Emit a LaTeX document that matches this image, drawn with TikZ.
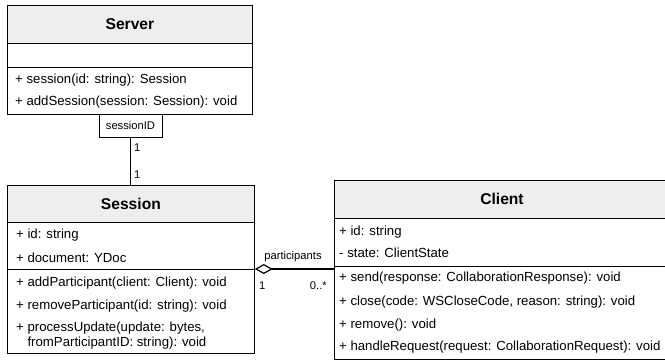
\documentclass[tikz,border=0pt]{standalone}
\usepackage{fontspec}
\setmainfont{Liberation Sans}
\usetikzlibrary{arrows.meta}
\definecolor{headfill}{RGB}{238,238,238}
\tikzset{
  classbox/.style={draw=black, line width=0.8pt, fill=white, anchor=north west, inner sep=0pt},
  headbox/.style={draw=black, line width=0.8pt, fill=headfill, anchor=north west, inner sep=0pt,
    font=\fontsize{15.6}{18}\selectfont\bfseries},
  member/.style={anchor=west, inner sep=0pt, font=\fontsize{13.2}{15}\selectfont},
  sepline/.style={line width=0.8pt},
  assoc/.style={line width=1.8pt},
  smalllabel/.style={inner sep=0pt, font=\fontsize{11.2}{13}\selectfont},
}
\begin{document}
\begin{tikzpicture}[x=1pt,y=-1pt]
\useasboundingbox (0,0) rectangle (665,360);

% ---------- Server ----------
\node[classbox, minimum width=245pt, minimum height=109pt] (server) at (7,5) {};
\node[headbox, minimum width=245pt, minimum height=38pt] (serverhead) at (7,5) {Server};
\draw[sepline] (7,67) -- (252,67);
\node[member] (sm1) at (15,80) {+ session(id: string): Session};
\node[member] (sm2) at (15,102) {+ addSession(session: Session): void};

% qualifier
\node[draw=black, line width=0.8pt, fill=white, anchor=north, minimum width=63pt,
      minimum height=23pt, inner sep=0pt, font=\fontsize{11.2}{13}\selectfont]
      (sessid) at (130.5,114) {sessionID};

% ---------- Session ----------
\node[classbox, minimum width=247pt, minimum height=168pt] (session) at (7,185) {};
\node[headbox, minimum width=247pt, minimum height=37pt] (sessionhead) at (7,185) {Session};
\coordinate (sessionsep) at (7,269);
\draw[sepline] (sessionsep) -- (254,269);
\node[member] (sa1) at (16,235) {+ id: string};
\node[member] (sa2) at (16,258) {+ document: YDoc};
\node[member] (so1) at (16,283) {+ addParticipant(client: Client): void};
\node[member] (so2) at (16,306) {+ removeParticipant(id: string): void};
\node[member, anchor=north west, align=left, font=\fontsize{13.2}{15}\selectfont] (so3) at (16,322)
  {+ processUpdate(update: bytes,\\\hphantom{+ }fromParticipantID: string): void};

% ---------- Client ----------
\node[classbox, minimum width=336pt, minimum height=179pt] (client) at (334,180) {};
\node[headbox, minimum width=336pt, minimum height=38pt] (clienthead) at (334,180) {};
\node[font=\fontsize{15.6}{18}\selectfont\bfseries] (clienttitle) at (502,199) {Client};
\draw[sepline] (334,266) -- (670,266);
\node[member] (ca1) at (339,232) {+ id: string};
\node[member] (ca2) at (339,253) {- state: ClientState};
\node[member] (co1) at (339,278) {+ send(response: CollaborationResponse): void};
\node[member] (co2) at (339,302) {+ close(code: WSCloseCode, reason: string): void};
\node[member] (co3) at (339,325) {+ remove(): void};
\node[member] (co4) at (339,347) {+ handleRequest(request: CollaborationRequest): void};

% ---------- Server -- Session association ----------
\draw[assoc] (sessid.south) -- (sessid.south |- session.north);
\node[smalllabel, anchor=west] (m1) at (134,148) {1};
\node[smalllabel, anchor=west] (m2) at (134,175) {1};

% ---------- Session <>-- Client aggregation ----------
\draw[assoc, {Diamond[open, length=18pt, width=10pt, line width=1.2pt]}-]
  (session.east |- sessionsep) -- (client.west |- sessionsep);
\node[smalllabel] (plabel) at (293,257) {participants};
\node[smalllabel, anchor=west] (m3) at (259,286) {1};
\node[smalllabel, anchor=east] (m4) at (327,286) {0..*};
\end{tikzpicture}
\end{document}
